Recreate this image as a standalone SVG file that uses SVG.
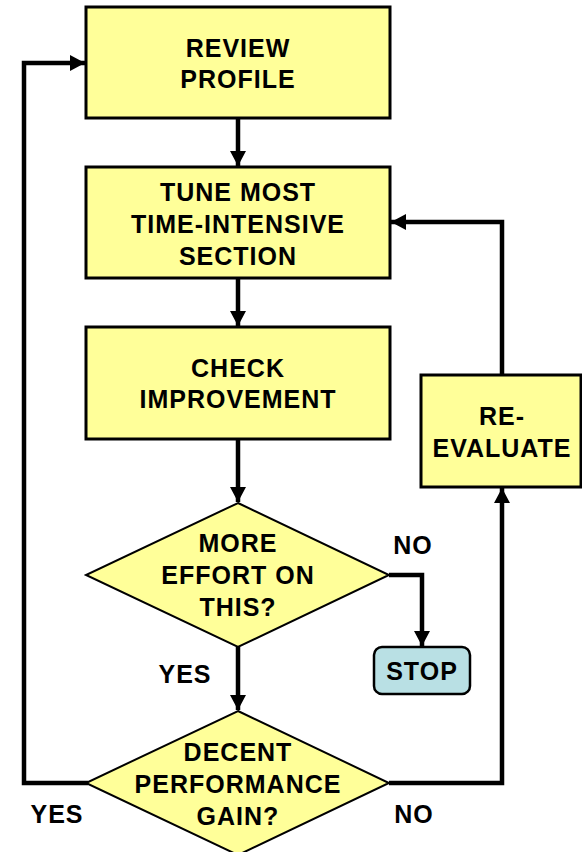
<svg xmlns="http://www.w3.org/2000/svg" width="582" height="852" viewBox="0 0 582 852">
<style>
.box{fill:#FFFF99;stroke:#000;stroke-width:3}
.dia{fill:#FFFF99;stroke:#000;stroke-width:2}
.stop{fill:#B9E0E4;stroke:#000;stroke-width:2.5}
.t{font-family:"Liberation Sans",Arial,sans-serif;font-weight:bold;font-size:25px;letter-spacing:1px;fill:#000;text-anchor:middle}
.c{fill:none;stroke:#000;stroke-width:4.5}
</style>
<defs>
<marker id="ah" markerUnits="userSpaceOnUse" markerWidth="16" markerHeight="16" viewBox="0 0 16 16" refX="15" refY="8" orient="auto">
<path d="M0,0 L15,8 L0,16 Z" fill="#000"/>
</marker>
</defs>
<g id="connectors">
<path class="c" d="M238,118 V166" marker-end="url(#ah)"/>
<path class="c" d="M238,278 V326" marker-end="url(#ah)"/>
<path class="c" d="M238,439 V502" marker-end="url(#ah)"/>
<path class="c" d="M238,647 V710" marker-end="url(#ah)"/>
<path class="c" d="M389,575 H422 V646" marker-end="url(#ah)"/>
<path class="c" d="M88,783 H24 V63 H85" marker-end="url(#ah)"/>
<path class="c" d="M389,783 H502 V488" marker-end="url(#ah)"/>
<path class="c" d="M502,374 V222 H391" marker-end="url(#ah)"/>
</g>
<g id="review">
<rect class="box" x="86" y="7" width="304" height="111"/>
<text class="t" x="238" y="57">REVIEW</text>
<text class="t" x="238" y="88">PROFILE</text>
</g>
<g id="tune">
<rect class="box" x="86" y="167" width="304" height="111"/>
<text class="t" x="238" y="201">TUNE MOST</text>
<text class="t" x="238" y="233">TIME-INTENSIVE</text>
<text class="t" x="238" y="265">SECTION</text>
</g>
<g id="check">
<rect class="box" x="86" y="327" width="304" height="112"/>
<text class="t" x="238" y="377">CHECK</text>
<text class="t" x="238" y="408">IMPROVEMENT</text>
</g>
<g id="more">
<polygon class="dia" points="238,503 389,575 238,647 86,575"/>
<text class="t" x="238" y="552">MORE</text>
<text class="t" x="238" y="584">EFFORT ON</text>
<text class="t" x="238" y="616">THIS?</text>
</g>
<g id="decent">
<polygon class="dia" points="238,711 389,783 238,855 86,783"/>
<text class="t" x="238" y="761">DECENT</text>
<text class="t" x="238" y="793">PERFORMANCE</text>
<text class="t" x="238" y="825">GAIN?</text>
</g>
<g id="reevaluate">
<rect class="box" x="421" y="375" width="160" height="112"/>
<text class="t" x="502" y="425">RE-</text>
<text class="t" x="502" y="457">EVALUATE</text>
</g>
<g id="stop">
<rect class="stop" x="374" y="647" width="96" height="47" rx="8"/>
<text class="t" x="422" y="680">STOP</text>
</g>
<g id="labels">
<text class="t" x="413" y="554">NO</text>
<text class="t" x="185" y="683">YES</text>
<text class="t" x="57" y="823">YES</text>
<text class="t" x="414" y="823">NO</text>
</g>
</svg>
